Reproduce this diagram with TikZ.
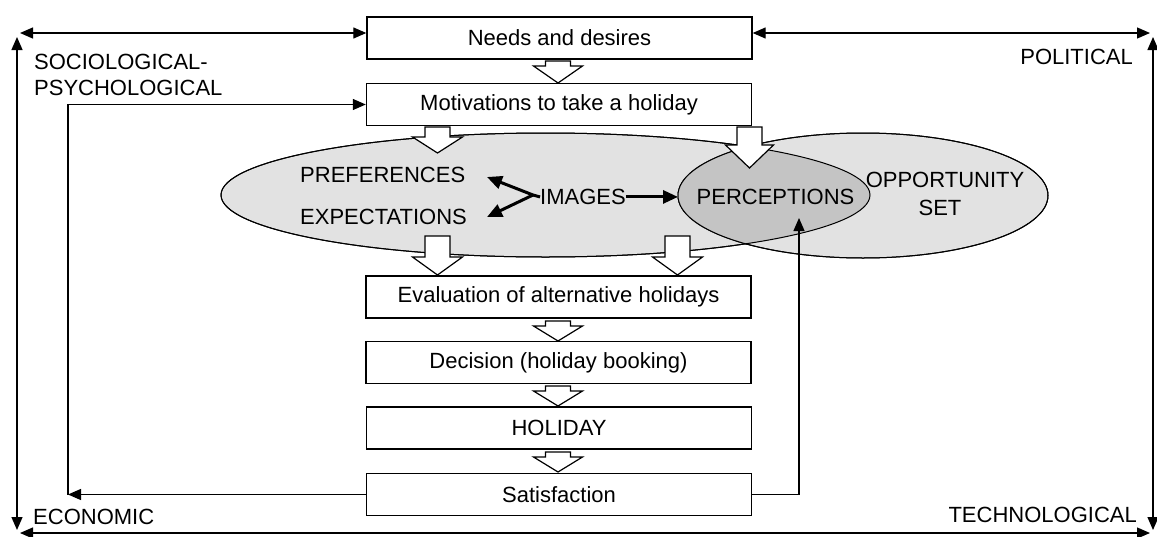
\documentclass[tikz,border=0pt]{standalone}
\usepackage{fontspec}
\setmainfont{Liberation Sans}
\usetikzlibrary{arrows.meta,shapes.geometric}
\definecolor{setfill}{RGB}{226,226,226}
\definecolor{percfill}{RGB}{196,196,196}
% block arrow pointing down: x, top, shoulder, tip, half shaft, half head
\newcommand{\hollowdown}[6]{%
  \draw[hollow] (#1-#5,#2) -- (#1+#5,#2) -- (#1+#5,#3) -- (#1+#6,#3)
    -- (#1,#4) -- (#1-#6,#3) -- (#1-#5,#3) -- cycle;}
\begin{document}
\begin{tikzpicture}[x=1pt,y=-1pt,
  every node/.style={font=\fontsize{22}{26}\selectfont, inner sep=0pt},
  stagebox/.style={draw, line width=1.4pt, fill=white, minimum width=385pt, minimum height=42pt},
  thinarrow/.style={line width=1.3pt, -{Triangle[length=13pt,width=11pt]}},
  thinboth/.style={line width=1.3pt, {Triangle[length=13pt,width=11pt]}-{Triangle[length=13pt,width=11pt]}},
  boldarrow/.style={line width=3pt, -{Triangle[length=15pt,width=13pt]}},
  hollow/.style={draw, line width=1.2pt, fill=white, line join=miter},
  setshape/.style={ellipse, draw, line width=1pt, fill=setfill, outer sep=0pt}
]
\useasboundingbox (0,0) rectangle (1157,536);

% the two sets and their overlap
\node[setshape, minimum width=649pt, minimum height=124pt] (prefset) at (545.5,195) {};
\node[setshape, minimum width=370pt, minimum height=125pt] (opp) at (863,195.5) {};
\begin{scope}
  \clip (545.5,195) ellipse [x radius=324.5pt, y radius=62pt];
  \fill[percfill] (863,195.5) ellipse [x radius=185pt, y radius=62.5pt];
\end{scope}
\draw[line width=1pt] (545.5,195) ellipse [x radius=324.5pt, y radius=62pt];
\draw[line width=1pt] (863,195.5) ellipse [x radius=185pt, y radius=62.5pt];

% stages
\node[stagebox] (needs) at (559.5,38) {Needs and desires};
\node[stagebox] (mot)   at (559,104.5) {Motivations to take a holiday};
\node[stagebox] (eval)  at (558.5,297) {Evaluation of alternative holidays};
\node[stagebox] (dec)   at (558.5,362.5) {Decision (holiday booking)};
\node[stagebox] (hol)   at (559,428) {HOLIDAY};
\node[stagebox] (sat)   at (559,494.5) {Satisfaction};

% block arrows
\hollowdown{558}{61}{66}{83}{12.5}{24.5}
\hollowdown{558}{321}{326}{341}{12.5}{24.5}
\hollowdown{558}{386}{391}{406}{12.5}{24.5}
\hollowdown{558}{452}{457}{472}{12.5}{24.5}
\hollowdown{437.5}{127}{137}{153}{12.5}{25}
\hollowdown{749.5}{127}{145}{168}{12.5}{24}
\hollowdown{437.5}{236}{257}{275}{12.5}{25}
\hollowdown{677.5}{236}{257}{275}{12.5}{25}

% texts inside the sets
\node[anchor=base west] (pref) at (300,182.5) {PREFERENCES};
\node[anchor=base west] (expe) at (300,224.5) {EXPECTATIONS};
\node[anchor=base west] (images) at (540,204.5) {IMAGES};
\node[anchor=base] (perc) at (775.5,204.5) {PERCEPTIONS};
\node[anchor=base] (oppa) at (945,187.5) {OPPORTUNITY};
\node[anchor=base] (oppb) at (940,215.5) {SET};

\coordinate (split) at (533,195);
\coordinate (prefin) at (487,177);
\coordinate (expein) at (487,217);
\draw[boldarrow] (images.west) -- (split) -- (prefin);
\draw[boldarrow] (split) -- (expein);
\draw[boldarrow] (images.east) -- (images.east -| opp.west);

% environment labels
\node[anchor=base west] (soc) at (34,69.5) {SOCIOLOGICAL-};
\node[anchor=base west] (psy) at (34,95.5) {PSYCHOLOGICAL};
\node[anchor=base east] (pol) at (1133,64.5) {POLITICAL};
\node[anchor=base west] (eco) at (33,524.5) {ECONOMIC};
\node[anchor=base east] (tec) at (1137,522.5) {TECHNOLOGICAL};

% environment frame
\coordinate (TL) at (17,33);
\coordinate (TR) at (1153,33);
\coordinate (BL) at (17,533);
\coordinate (BR) at (1153,533);
\draw[thinboth] ([xshift=3pt]TL) -- (TL -| needs.west);
\draw[thinboth] (TR -| needs.east) -- ([xshift=-3pt]TR);
\draw[thinboth] ([yshift=-4pt]TL) -- ([yshift=3pt]BL);
\draw[thinboth] ([yshift=-4pt]TR) -- ([yshift=3pt]BR);
\draw[thinboth] ([xshift=3pt]BL) -- ([xshift=-3pt]BR);

% feedback loops
\coordinate (loop) at (68,494.5);
\coordinate (percin) at (799,218);
\draw[thinarrow] (sat.west) -- (loop);
\draw[thinarrow] (loop) |- (mot.west);
\draw[thinarrow] (sat.east) -| (percin);
\end{tikzpicture}
\end{document}
